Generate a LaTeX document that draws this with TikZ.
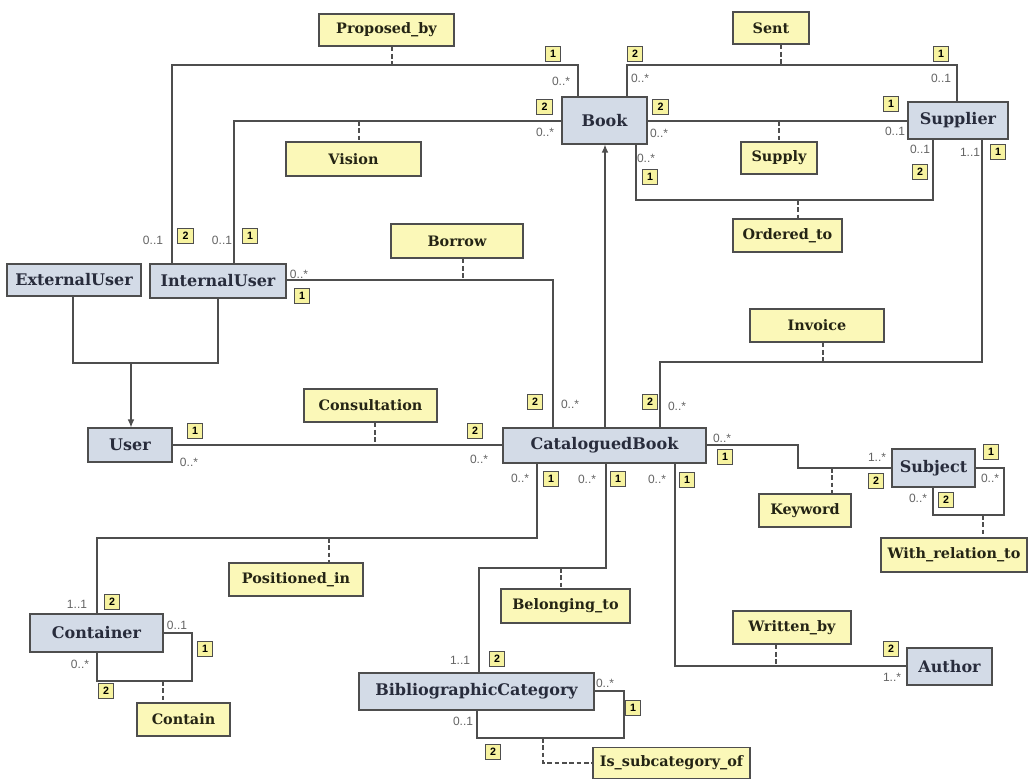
\documentclass[tikz,border=0pt]{standalone}
\usepackage{fontspec}
\setmainfont{DejaVu Serif}
\newfontfamily\lsans{Liberation Sans}
\usetikzlibrary{arrows.meta}
\definecolor{entfill}{RGB}{211,219,231}
\definecolor{relfill}{RGB}{251,248,184}
\definecolor{badgefill}{RGB}{247,243,160}
\definecolor{linec}{RGB}{78,78,78}
\definecolor{enttext}{RGB}{40,44,60}
\definecolor{reltext}{RGB}{36,36,20}
\definecolor{multc}{RGB}{100,100,100}
\tikzset{
  ent/.style={draw=linec, line width=0.8pt, fill=entfill, text=enttext, inner sep=0pt,
    font=\fontsize{12}{14}\selectfont\bfseries},
  rel/.style={draw=linec, line width=0.8pt, fill=relfill, text=reltext, inner sep=0pt,
    font=\fontsize{10.8}{12}\selectfont\bfseries},
  mult/.style={text=multc, inner sep=0pt, font=\lsans\fontsize{9}{10}\selectfont},
  badge/.style={draw=linec, line width=0.6pt, fill=badgefill, text=black, inner sep=0pt,
    minimum size=11.5pt, font=\lsans\bfseries\fontsize{8}{9}\selectfont},
  conn/.style={draw=linec, line width=0.9pt},
  dconn/.style={draw=linec, line width=0.9pt, dash pattern=on 3.5pt off 2pt},
  isa/.style={draw=linec, line width=0.9pt, -{Latex[length=6pt,width=5pt]}},
}
\begin{document}
\begin{tikzpicture}[x=0.75pt,y=-0.75pt]
\useasboundingbox[fill=white] (0,0) rectangle (1030,780);

% ---------- entities ----------
\node[ent, minimum width=63.75pt, minimum height=35.25pt] (Book) at (604.5,120.5) {Book};
\node[ent, minimum width=75pt, minimum height=27.75pt] (Supplier) at (958,120.5) {Supplier};
\node[ent, minimum width=100.5pt, minimum height=24pt] (ExternalUser) at (74,280) {ExternalUser};
\node[ent, minimum width=102pt, minimum height=25.5pt] (InternalUser) at (218,281) {InternalUser};
\node[ent, minimum width=63pt, minimum height=25.5pt] (User) at (130,445) {User};
\node[ent, minimum width=152.25pt, minimum height=26.25pt] (CataloguedBook) at (604.5,445.5) {CataloguedBook};
\node[ent, minimum width=62.25pt, minimum height=28.5pt] (Subject) at (933.5,468) {Subject};
\node[ent, minimum width=99.75pt, minimum height=28.5pt] (Container) at (96.5,633) {Container};
\node[ent, minimum width=176.25pt, minimum height=27.75pt] (BibliographicCategory) at (476.5,691.5) {BibliographicCategory};
\node[ent, minimum width=63.75pt, minimum height=27.75pt] (Author) at (949.5,666.5) {Author};

% ---------- relationships ----------
\node[rel, minimum width=101.25pt, minimum height=24pt] (Proposed_by) at (386.5,30) {Proposed\_by};
\node[rel, minimum width=101.25pt, minimum height=25.5pt] (Vision) at (353.5,159) {Vision};
\node[rel, minimum width=99pt, minimum height=25.5pt] (Borrow) at (457,241) {Borrow};
\node[rel, minimum width=57pt, minimum height=24pt] (Sent) at (771,28) {Sent};
\node[rel, minimum width=57pt, minimum height=24pt] (Supply) at (779,158) {Supply};
\node[rel, minimum width=81.75pt, minimum height=24.75pt] (Ordered_to) at (787.5,235.5) {Ordered\_to};
\node[rel, minimum width=100.5pt, minimum height=24.75pt] (Invoice) at (817,325.5) {Invoice};
\node[rel, minimum width=99.75pt, minimum height=24.75pt] (Consultation) at (370.5,405.5) {Consultation};
\node[rel, minimum width=69pt, minimum height=24.75pt] (Keyword) at (805,510.5) {Keyword};
\node[rel, minimum width=109.5pt, minimum height=25.5pt] (With_relation_to) at (954,555) {With\_relation\_to};
\node[rel, minimum width=100.5pt, minimum height=24.75pt] (Positioned_in) at (296,579.5) {Positioned\_in};
\node[rel, minimum width=96.75pt, minimum height=25.5pt] (Belonging_to) at (565.5,606) {Belonging\_to};
\node[rel, minimum width=88.5pt, minimum height=24.75pt] (Written_by) at (792,627.5) {Written\_by};
\node[rel, minimum width=69.75pt, minimum height=24.75pt] (Contain) at (183.5,719.5) {Contain};
\node[rel, minimum width=117.75pt, minimum height=23.25pt] (Is_subcategory_of) at (671.5,763) {Is\_subcategory\_of};

% ---------- route points ----------
\coordinate (pbL) at (172,65);  \coordinate (pbR) at (578,65);  \coordinate (pbD) at (392,65);
\coordinate (vL) at (234,121);  \coordinate (vD) at (359,121);
\coordinate (bR) at (553,280);  \coordinate (bD) at (463,280);
\coordinate (sL) at (627,65);   \coordinate (sR) at (957,65);   \coordinate (sD) at (781,65);
\coordinate (suD) at (779,121);
\coordinate (oL) at (636,200);  \coordinate (oR) at (933,200);  \coordinate (oD) at (798,200);
\coordinate (iR) at (982,362);  \coordinate (iL) at (660,362);  \coordinate (iD) at (823,362);
\coordinate (cD) at (375,445);
\coordinate (kA) at (798,445);  \coordinate (kB) at (798,468);  \coordinate (kD) at (832,468);
\coordinate (wA) at (1004,468); \coordinate (wB) at (1004,515); \coordinate (wC) at (933,515); \coordinate (wD) at (983,515);
\coordinate (pA) at (537,538);  \coordinate (pB) at (97,538);   \coordinate (pD) at (329,538);
\coordinate (blA) at (606,568); \coordinate (blB) at (479,568); \coordinate (blD) at (561,568);
\coordinate (wbA) at (675,666); \coordinate (wbD) at (776,666);
\coordinate (ctA) at (192,633); \coordinate (ctB) at (192,681); \coordinate (ctC) at (97,681); \coordinate (ctD) at (163,681);
\coordinate (isA) at (624,691); \coordinate (isB) at (624,738); \coordinate (isC) at (477,738); \coordinate (isD) at (543,738);
\coordinate (gE) at (73,363);   \coordinate (gI) at (218,363);  \coordinate (gM) at (131,363);
\coordinate (aX) at (605,300);

% ---------- connectors ----------
\draw[conn] (InternalUser.north -| pbL) -- (pbL) -- (pbR) -- (Book.north -| pbR);
\draw[dconn] (Proposed_by.south -| pbD) -- (pbD);
\draw[conn] (InternalUser.north -| vL) -- (vL) -- (Book.west |- vL);
\draw[dconn] (vD) -- (Vision.north -| vD);
\draw[conn] (InternalUser.east |- bR) -- (bR) -- (CataloguedBook.north -| bR);
\draw[dconn] (Borrow.south -| bD) -- (bD);
\draw[conn] (Book.north -| sL) -- (sL) -- (sR) -- (Supplier.north -| sR);
\draw[dconn] (Sent.south -| sD) -- (sD);
\draw[conn] (Book.east |- suD) -- (Supplier.west |- suD);
\draw[dconn] (suD) -- (Supply.north -| suD);
\draw[conn] (Book.south -| oL) -- (oL) -- (oR) -- (Supplier.south -| oR);
\draw[dconn] (oD) -- (Ordered_to.north -| oD);
\draw[conn] (Supplier.south -| iR) -- (iR) -- (iL) -- (CataloguedBook.north -| iL);
\draw[dconn] (Invoice.south -| iD) -- (iD);
\draw[conn] (User.east |- cD) -- (CataloguedBook.west |- cD);
\draw[dconn] (Consultation.south -| cD) -- (cD);
\draw[conn] (CataloguedBook.east |- kA) -- (kA) -- (kB) -- (Subject.west |- kB);
\draw[dconn] (kD) -- (Keyword.north -| kD);
\draw[conn] (Subject.east |- wA) -- (wA) -- (wB) -- (wC) -- (Subject.south -| wC);
\draw[dconn] (wD) -- (With_relation_to.north -| wD);
\draw[conn] (CataloguedBook.south -| pA) -- (pA) -- (pB) -- (Container.north -| pB);
\draw[dconn] (pD) -- (Positioned_in.north -| pD);
\draw[conn] (CataloguedBook.south -| blA) -- (blA) -- (blB) -- (BibliographicCategory.north -| blB);
\draw[dconn] (blD) -- (Belonging_to.north -| blD);
\draw[conn] (CataloguedBook.south -| wbA) -- (wbA) -- (Author.west |- wbA);
\draw[dconn] (Written_by.south -| wbD) -- (wbD);
\draw[conn] (Container.east |- ctA) -- (ctA) -- (ctB) -- (ctC) -- (Container.south -| ctC);
\draw[dconn] (ctD) -- (Contain.north -| ctD);
\draw[conn] (BibliographicCategory.east |- isA) -- (isA) -- (isB) -- (isC) -- (BibliographicCategory.south -| isC);
\draw[dconn] (isD) |- (Is_subcategory_of.west);
\draw[conn] (ExternalUser.south -| gE) -- (gE) -- (gI) -- (InternalUser.south -| gI);
\draw[isa] (gM) -- (User.north -| gM);
\draw[isa] (CataloguedBook.north -| aX) -- (Book.south -| aX);

% ---------- multiplicities ----------
\node[mult] (m1) at (153,240) {0..1};
\node[mult] (m2) at (222,240) {0..1};
\node[mult] (m3) at (561,81) {0..*};
\node[mult] (m4) at (545,132) {0..*};
\node[mult] (m5) at (640,78) {0..*};
\node[mult] (m6) at (941,78) {0..1};
\node[mult] (m7) at (659,133) {0..*};
\node[mult] (m8) at (895,131) {0..1};
\node[mult] (m9) at (646,158) {0..*};
\node[mult] (m10) at (920,149) {0..1};
\node[mult] (m11) at (970,152) {1..1};
\node[mult] (m12) at (677,406) {0..*};
\node[mult] (m13) at (299,274) {0..*};
\node[mult] (m14) at (570,404) {0..*};
\node[mult] (m15) at (189,462) {0..*};
\node[mult] (m16) at (479,459) {0..*};
\node[mult] (m17) at (722,438) {0..*};
\node[mult] (m18) at (877,457) {1..*};
\node[mult] (m19) at (990,478) {0..*};
\node[mult] (m20) at (918,498) {0..*};
\node[mult] (m21) at (520,478) {0..*};
\node[mult] (m22) at (77,604) {1..1};
\node[mult] (m23) at (587,479) {0..*};
\node[mult] (m24) at (460,660) {1..1};
\node[mult] (m25) at (657,479) {0..*};
\node[mult] (m26) at (892,677) {1..*};
\node[mult] (m27) at (177,625) {0..1};
\node[mult] (m28) at (80,664) {0..*};
\node[mult] (m29) at (605,683) {0..*};
\node[mult] (m30) at (463,721) {0..1};

% ---------- role badges ----------
\node[badge] (b1) at (185.5,236) {2};
\node[badge] (b2) at (250,236) {1};
\node[badge] (b3) at (553,54) {1};
\node[badge] (b4) at (544.5,107) {2};
\node[badge] (b5) at (635,54) {2};
\node[badge] (b6) at (941,54) {1};
\node[badge] (b7) at (660.5,107) {2};
\node[badge] (b8) at (891,104) {1};
\node[badge] (b9) at (650,177) {1};
\node[badge] (b10) at (920,172) {2};
\node[badge] (b11) at (998,152) {1};
\node[badge] (b12) at (650,402) {2};
\node[badge] (b13) at (302,296) {1};
\node[badge] (b14) at (535,402) {2};
\node[badge] (b15) at (195,431) {1};
\node[badge] (b16) at (475,431) {2};
\node[badge] (b17) at (725,457) {1};
\node[badge] (b18) at (876,481) {2};
\node[badge] (b19) at (991,452) {1};
\node[badge] (b20) at (946,500) {2};
\node[badge] (b21) at (551,479) {1};
\node[badge] (b22) at (112,602) {2};
\node[badge] (b23) at (618,479) {1};
\node[badge] (b24) at (497,659) {2};
\node[badge] (b25) at (687,480) {1};
\node[badge] (b26) at (891,649) {2};
\node[badge] (b27) at (205,649) {1};
\node[badge] (b28) at (106,691) {2};
\node[badge] (b29) at (633,708) {1};
\node[badge] (b30) at (493,752) {2};
\end{tikzpicture}
\end{document}
